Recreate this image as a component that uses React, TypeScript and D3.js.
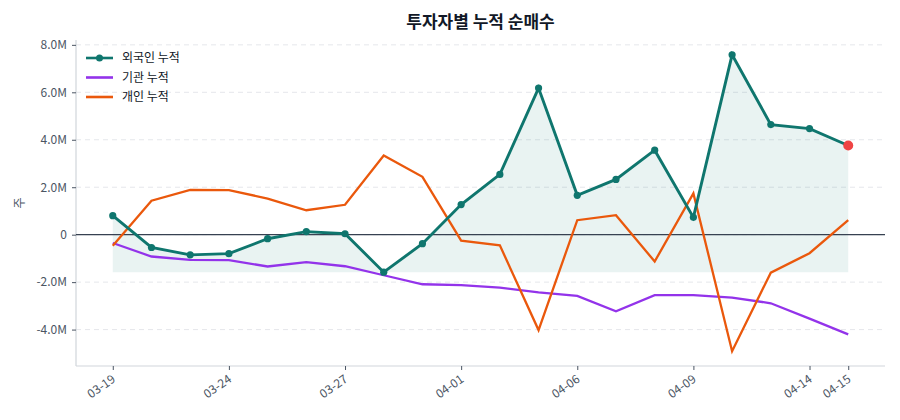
import React, { useEffect, useRef } from 'react';
import * as d3 from 'd3';

// 거래일 (x축 카테고리)
const dates = [
  '03-19', '03-20', '03-23', '03-24', '03-25', '03-26', '03-27', '03-30', '03-31', '04-01',
  '04-02', '04-03', '04-06', '04-07', '04-08', '04-09', '04-10', '04-13', '04-14', '04-15',
];
const tickDates = ['03-19', '03-24', '03-27', '04-01', '04-06', '04-09', '04-14', '04-15'];

// 누적 순매수 (주, 백만 단위)
const foreign = [
  0.80, -0.54, -0.85, -0.80, -0.17, 0.13, 0.04, -1.58, -0.38, 1.27,
  2.54, 6.18, 1.66, 2.33, 3.56, 0.73, 7.58, 4.64, 4.47, 3.76,
];
const institution = [
  -0.35, -0.92, -1.06, -1.07, -1.34, -1.16, -1.33, -1.71, -2.09, -2.13,
  -2.23, -2.43, -2.58, -3.23, -2.55, -2.55, -2.65, -2.89, -3.54, -4.20,
];
const individual = [
  -0.47, 1.43, 1.89, 1.88, 1.52, 1.03, 1.26, 3.34, 2.44, -0.25,
  -0.45, -4.02, 0.61, 0.82, -1.13, 1.74, -4.91, -1.60, -0.78, 0.61,
];
const yTicks = [-4, -2, 0, 2, 4, 6, 8];

const FONT = '"Noto Sans CJK KR", "Noto Sans", sans-serif';

const App = () => {
  const ref = useRef<SVGSVGElement>(null);

  useEffect(() => {
    const W = 900, H = 420;
    const margin = { top: 40, right: 15, bottom: 54, left: 76 };
    const width = W - margin.left - margin.right;
    const height = H - margin.top - margin.bottom;

    const root = d3.select(ref.current);
    root.selectAll('*').remove();
    const svg = root.append('g').attr('transform', `translate(${margin.left},${margin.top})`);

    const n = dates.length;
    const x = d3.scaleLinear().domain([-0.95, n - 1 + 0.95]).range([0, width]);
    const all = [...foreign, ...institution, ...individual];
    const lo = d3.min(all) as number, hi = d3.max(all) as number;
    const pad = (hi - lo) * 0.05;
    const y = d3.scaleLinear().domain([lo - pad, hi + pad]).range([height, 0]);

    // grid
    svg.append('g')
      .selectAll('line')
      .data(yTicks)
      .enter().append('line')
      .attr('x1', 0).attr('x2', width)
      .attr('y1', d => y(d)).attr('y2', d => y(d))
      .attr('stroke', '#e5e7eb').attr('stroke-dasharray', '5,4').attr('stroke-width', 1);

    // spines
    svg.append('line').attr('x1', 0).attr('x2', 0).attr('y1', 0).attr('y2', height)
      .attr('stroke', '#d1d5db').attr('stroke-width', 1.2);
    svg.append('line').attr('x1', 0).attr('x2', width).attr('y1', height).attr('y2', height)
      .attr('stroke', '#d1d5db').attr('stroke-width', 1.2);

    // y axis
    const yAxis = svg.append('g')
      .call(d3.axisLeft(y).tickValues(yTicks).tickSize(4).tickPadding(5)
        .tickFormat(d => (+d === 0 ? '0' : `${(+d).toFixed(1)}M`)));
    yAxis.select('.domain').remove();
    yAxis.selectAll('line').attr('stroke', '#4b5563');
    yAxis.selectAll('text').attr('fill', '#4b5563').style('font-size', '12px').style('font-family', FONT);

    // x axis
    const xAxis = svg.append('g').attr('transform', `translate(0,${height})`)
      .call(d3.axisBottom(x).tickValues(tickDates.map(t => dates.indexOf(t)))
        .tickSize(4).tickFormat(i => dates[+i]));
    xAxis.select('.domain').remove();
    xAxis.selectAll('line').attr('stroke', '#4b5563');
    xAxis.selectAll('text')
      .attr('fill', '#4b5563').style('font-size', '12px').style('font-family', FONT)
      .attr('text-anchor', 'end').attr('dy', null).attr('y', 0)
      .attr('transform', 'translate(3,15) rotate(-35)');

    // fill under foreign
    const fMin = d3.min(foreign) as number;
    const area = d3.area<number>().x((_, i) => x(i)).y0(y(fMin)).y1(d => y(d));
    svg.append('path').datum(foreign).attr('d', area).attr('fill', '#0f766e').attr('opacity', 0.09);

    // zero line
    svg.append('line').attr('x1', 0).attr('x2', width).attr('y1', y(0)).attr('y2', y(0))
      .attr('stroke', '#374151').attr('stroke-width', 1.2);

    const line = d3.line<number>().x((_, i) => x(i)).y(d => y(d));
    svg.append('path').datum(institution).attr('d', line)
      .attr('fill', 'none').attr('stroke', '#9333ea').attr('stroke-width', 2.3);
    svg.append('path').datum(individual).attr('d', line)
      .attr('fill', 'none').attr('stroke', '#ea580c').attr('stroke-width', 2.3);
    svg.append('path').datum(foreign).attr('d', line)
      .attr('fill', 'none').attr('stroke', '#0f766e').attr('stroke-width', 2.9);
    svg.append('g').selectAll('circle').data(foreign).enter().append('circle')
      .attr('cx', (_, i) => x(i)).attr('cy', d => y(d)).attr('r', 3.6).attr('fill', '#0f766e');
    svg.append('circle').attr('cx', x(n - 1)).attr('cy', y(foreign[n - 1])).attr('r', 5)
      .attr('fill', '#ef4444');

    // legend
    const legend = [
      { label: '외국인 누적', color: '#0f766e', marker: true },
      { label: '기관 누적', color: '#9333ea', marker: false },
      { label: '개인 누적', color: '#ea580c', marker: false },
    ];
    const lg = svg.append('g').attr('transform', 'translate(10,18)');
    legend.forEach((l, i) => {
      const g = lg.append('g').attr('transform', `translate(0,${i * 19.5})`);
      g.append('line').attr('x1', 0).attr('x2', 27).attr('stroke', l.color).attr('stroke-width', 2.6);
      if (l.marker) g.append('circle').attr('cx', 13.5).attr('r', 3.5).attr('fill', l.color);
      g.append('text').attr('x', 36).attr('dy', '0.35em').text(l.label)
        .style('font-size', '12px').style('font-family', FONT).attr('fill', '#111827');
    });

    // title
    root.append('text').attr('x', margin.left + width / 2).attr('y', 28)
      .attr('text-anchor', 'middle').text('투자자별 누적 순매수')
      .style('font-size', '17px').style('font-weight', 'bold').style('font-family', FONT)
      .attr('fill', '#111827');

    // y label
    root.append('text').attr('transform', `translate(24,${margin.top + height / 2}) rotate(-90)`)
      .attr('text-anchor', 'middle').text('주')
      .style('font-size', '12px').style('font-family', FONT).attr('fill', '#4b5563');
  }, []);

  return (
    <svg ref={ref} width={900} height={420}
      style={{ position: 'absolute', left: 0, top: 0, background: '#fff' }} />
  );
};

export default App;
